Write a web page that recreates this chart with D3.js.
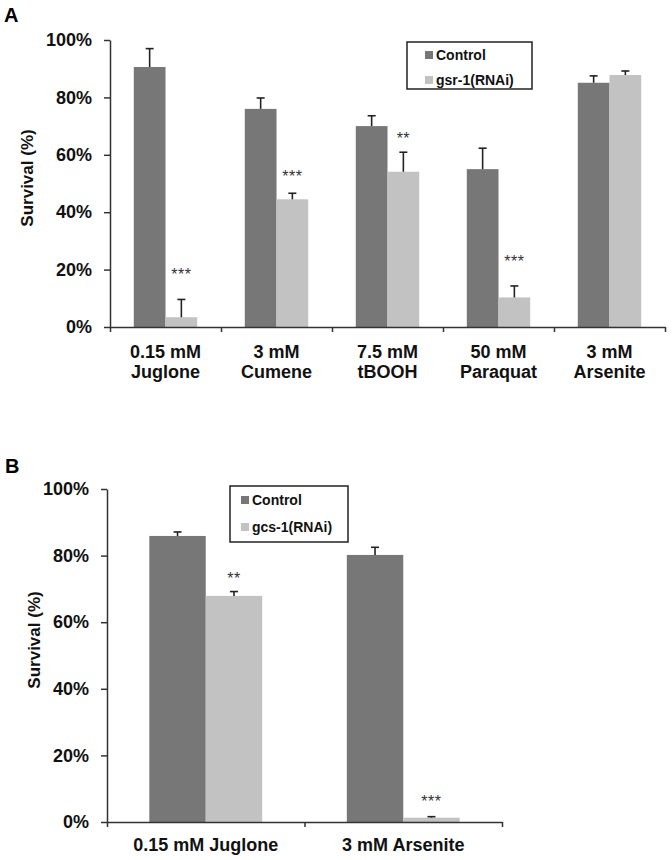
<!DOCTYPE html>
<html>
<head>
<meta charset="utf-8">
<script src="https://cdn.jsdelivr.net/npm/d3@7"></script>
<style>
  body { margin: 0; background: #fff; }
  svg { display: block; font-family: "Liberation Sans", Arial, sans-serif; }
  .axis path, .axis line { stroke: #333; stroke-width: 1.5; }
  .axis text { font-size: 18px; font-weight: bold; fill: #111; }
</style>
</head>
<body>
<svg id="chart" width="672" height="860"></svg>
<script>
// panel A data
var catsA = [["0.15 mM", "Juglone"], ["3 mM", "Cumene"], ["7.5 mM", "tBOOH"], ["50 mM", "Paraquat"], ["3 mM", "Arsenite"]];
var ctrlA = [90.6, 76.0, 70.0, 55.0, 85.1];
var ctrlErrA = [6.4, 3.8, 3.6, 7.3, 2.4];
var rnaiA = [3.4, 44.5, 54.1, 10.3, 87.8];
var rnaiErrA = [6.2, 2.1, 6.8, 4.0, 1.4];
var sigA = ["***", "***", "**", "***", ""];
var sigYA = [19.5, 53.7, 66.9, 24, 0];

// panel B data
var catsB = [["0.15 mM Juglone"], ["3 mM Arsenite"]];
var ctrlB = [85.9, 80.2];
var ctrlErrB = [1.2, 2.3];
var rnaiB = [67.9, 1.3];
var rnaiErrB = [1.3, 0.3];
var sigB = ["**", "***"];
var sigYB = [74.2, 7.2];

var yTicks = [0, 20, 40, 60, 80, 100];
var colors = { ctrl: "#777777", rnai: "#c2c2c2" };

var svg = d3.select("#chart");

function panel(o) {
  var g = svg.append("g");
  var n = o.cats.length;
  var y = d3.scaleLinear().domain([0, 100]).range([o.y0, o.y1]);
  var x = d3.scaleBand().domain(d3.range(n)).range([o.x0, o.x1]).padding(0);
  var xs = d3.scaleBand().domain(["ctrl", "rnai"]).range([0, x.bandwidth()])
      .paddingInner(0).paddingOuter(0.75);
  var xl = d3.scaleLinear().domain([0, n]).range([o.x0, o.x1]);

  var rows = d3.range(n).map(function(i) {
    return [
      { i: i, k: "ctrl", v: o.ctrl[i], e: o.ctrlErr[i] },
      { i: i, k: "rnai", v: o.rnai[i], e: o.rnaiErr[i] }
    ];
  });
  var flat = [].concat.apply([], rows);

  g.selectAll("rect.bar").data(flat).enter().append("rect")
    .attr("class", "bar")
    .attr("x", function(d) { return x(d.i) + xs(d.k); })
    .attr("y", function(d) { return y(d.v); })
    .attr("width", xs.bandwidth())
    .attr("height", function(d) { return y(0) - y(d.v); })
    .attr("fill", function(d) { return colors[d.k]; });

  // error bars, upward only
  var eb = g.selectAll("g.err").data(flat).enter().append("g")
    .attr("transform", function(d) { return "translate(" + (x(d.i) + xs(d.k) + xs.bandwidth() / 2) + ",0)"; });
  eb.append("line")
    .attr("y1", function(d) { return y(d.v); })
    .attr("y2", function(d) { return y(d.v + d.e); })
    .attr("stroke", "#222").attr("stroke-width", 1.6);
  eb.append("line")
    .attr("x1", -4).attr("x2", 4)
    .attr("y1", function(d) { return y(d.v + d.e); })
    .attr("y2", function(d) { return y(d.v + d.e); })
    .attr("stroke", "#222").attr("stroke-width", 1.6);

  g.selectAll("text.sig").data(o.sig).enter().append("text")
    .attr("x", function(d, i) { return x(i) + xs("rnai") + xs.bandwidth() / 2; })
    .attr("y", function(d, i) { return y(o.sigY[i]); })
    .attr("dy", "0.55em")
    .attr("text-anchor", "middle")
    .attr("font-size", 16).attr("letter-spacing", 0.5).attr("fill", "#333")
    .text(function(d) { return d; });

  // axes
  g.append("g").attr("class", "axis")
    .attr("transform", "translate(" + o.x0 + ",0)")
    .call(d3.axisLeft(y).tickValues(yTicks).tickSize(6).tickSizeOuter(0).tickPadding(o.pad)
      .tickFormat(function(d) { return d + "%"; }));

  var xa = g.append("g").attr("class", "axis")
    .attr("transform", "translate(0," + o.y0 + ")")
    .call(d3.axisBottom(xl).tickValues(d3.range(n + 1)).tickSize(5).tickSizeOuter(0).tickFormat(""));

  var lab = g.selectAll("text.xl").data(o.cats).enter().append("text")
    .attr("class", "xl")
    .attr("x", function(d, i) { return x(i) + x.bandwidth() / 2; })
    .attr("y", o.y0 + o.labY)
    .attr("text-anchor", "middle")
    .attr("font-size", 18).attr("font-weight", "bold").attr("fill", "#111");
  lab.selectAll("tspan").data(function(d) { return d; }).enter().append("tspan")
    .attr("x", function() { return this.parentNode.getAttribute("x"); })
    .attr("dy", function(d, j) { return j ? 20 : 0; })
    .text(function(d) { return d; });

  g.append("text")
    .attr("transform", "translate(" + o.titleX + "," + o.titleY + ") rotate(-90)")
    .attr("text-anchor", "middle")
    .attr("font-size", 17).attr("font-weight", "bold").attr("fill", "#111")
    .text("Survival (%)");

  g.append("text")
    .attr("x", o.letterX).attr("y", o.letterY)
    .attr("font-size", 20).attr("font-weight", "bold").attr("fill", "#000")
    .text(o.letter);

  // legend
  var lg = g.append("g").attr("transform", "translate(" + o.leg[0] + "," + o.leg[1] + ")");
  lg.append("rect").attr("width", o.leg[2]).attr("height", o.leg[3])
    .attr("fill", "#fff").attr("stroke", "#222").attr("stroke-width", 1.5);
  var items = [["ctrl", "Control"], ["rnai", o.rnaiName]];
  var li = lg.selectAll("g.li").data(items).enter().append("g")
    .attr("transform", function(d, i) { return "translate(" + o.leg[4] + "," + (o.leg[5] + i * o.leg[6]) + ")"; });
  li.append("rect").attr("x", 0).attr("y", -4).attr("width", 8).attr("height", 8)
    .attr("fill", function(d) { return colors[d[0]]; });
  li.append("text").attr("x", 11).attr("dy", "0.36em")
    .attr("font-size", 14).attr("font-weight", "bold").attr("fill", "#111")
    .text(function(d) { return d[1]; });
}

panel({
  cats: catsA, ctrl: ctrlA, ctrlErr: ctrlErrA, rnai: rnaiA, rnaiErr: rnaiErrA,
  sig: sigA, sigY: sigYA, rnaiName: "gsr-1(RNAi)",
  x0: 110, x1: 665, y0: 327, y1: 40, pad: 12, labY: 31,
  titleX: 33, titleY: 178, letter: "A", letterX: 4, letterY: 22,
  leg: [407, 42, 125, 47, 18, 13, 25]
});

panel({
  cats: catsB, ctrl: ctrlB, ctrlErr: ctrlErrB, rnai: rnaiB, rnaiErr: rnaiErrB,
  sig: sigB, sigY: sigYB, rnaiName: "gcs-1(RNAi)",
  x0: 107, x1: 502, y0: 822, y1: 489, pad: 12, labY: 29,
  titleX: 40, titleY: 640, letter: "B", letterX: 5, letterY: 473,
  leg: [230, 486, 118, 56, 11, 14, 27]
});
</script>
</body>
</html>
